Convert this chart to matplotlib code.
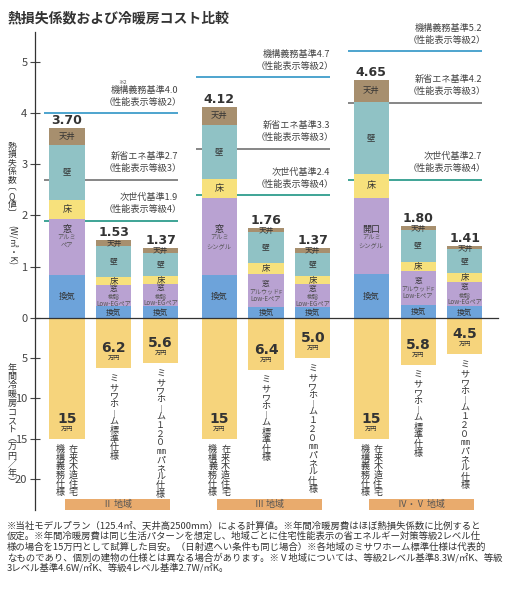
import matplotlib
matplotlib.use('Agg')
import matplotlib.pyplot as plt

plt.rcParams['font.family'] = ['Noto Sans CJK JP', 'DejaVu Sans']

# ---------------- data ----------------
regions = ['Ⅱ 地域', 'Ⅲ 地域', 'Ⅳ・Ⅴ 地域']
totals = [[3.70, 1.53, 1.37], [4.12, 1.76, 1.37], [4.65, 1.80, 1.41]]
vent = [[0.84, 0.23, 0.23], [0.84, 0.22, 0.21], [0.85, 0.26, 0.23]]
window = [[1.10, 0.41, 0.43], [1.50, 0.63, 0.45], [1.50, 0.66, 0.48]]
floor_ = [[0.37, 0.16, 0.16], [0.37, 0.22, 0.16], [0.46, 0.18, 0.17]]
wall = [[1.07, 0.60, 0.45], [1.06, 0.61, 0.45], [1.41, 0.62, 0.46]]
ceiling = [[0.32, 0.13, 0.10], [0.35, 0.08, 0.10], [0.43, 0.08, 0.07]]
costs = [[15, 6.2, 5.6], [15, 6.4, 5.0], [15, 5.8, 4.5]]
standards = [[4.0, 2.7, 1.9], [4.7, 3.3, 2.4], [5.2, 4.2, 2.7]]
standard_names = ['機構義務基準', '新省エネ基準', '次世代基準']
standard_grades = ['（性能表示等級2）', '（性能表示等級3）', '（性能表示等級4）']
window_main = [['窓', '窓', '窓'], ['窓', '窓', '窓'], ['開口', '窓', '窓']]
window_sub = [['アルミ\nペア', '樹脂\nLow-EGペア', '樹脂\nLow-EGペア'],
              ['アルミ\nシングル', 'アルウッドF\nLow-Eペア', '樹脂\nLow-EGペア'],
              ['アルミ\nシングル', 'アルウッドF\nLow-Eペア', '樹脂\nLow-EGペア']]
bar_names = [['在来木造住宅', '機構義務仕様'], ['ミサワホ︱ム標準仕様'], ['ミサワホ︱ム１２０㎜パネル仕様']]
upper_ticks = [1, 2, 3, 4, 5]
lower_ticks = [0, 5, 10, 15, 20]
footnote = [
    '※当社モデルプラン（125.4㎡、天井高2500mm）による計算値。※年間冷暖房費はほぼ熱損失係数に比例すると',
    '仮定。※年間冷暖房費は同じ生活パターンを想定し、地域ごとに住宅性能表示の省エネルギー対策等級2レベル仕',
    '様の場合を15万円として試算した目安。（日射遮へい条件も同じ場合）※各地域のミサワホーム標準仕様は代表的',
    'なものであり、個別の建物の仕様とは異なる場合があります。※Ⅴ地域については、等級2レベル基準8.3W/㎡K、等級',
    '3レベル基準4.6W/㎡K、等級4レベル基準2.7W/㎡K。',
]

# ---------------- style ----------------
C_VENT = '#6da3da'
C_WIN = '#b9a2d2'
C_FLOOR = '#f7e17c'
C_WALL = '#90c2c5'
C_CEIL = '#a78f6e'
C_COST = '#f6d47c'
C_LINES = ['#3f9dca', '#7d7d7d', '#2f9d8d']
C_REGION = '#e9ab6d'
TXT = '#333333'

W, H = 515, 590
PT = 0.72  # points per pixel at dpi 100
K = 0.157  # data units (Q) per 万円 in the lower half

fig = plt.figure(figsize=(W / 100, H / 100), dpi=100)
ax = fig.add_axes([35 / W, 1 - 510 / H, 465 / W, 478 / H])
ax.set_xlim(-0.684, 9.25)
ax.set_ylim(-3.746, 5.58)
for s in ['top', 'right', 'bottom']:
    ax.spines[s].set_visible(False)
ax.spines['left'].set_color('#333')
ax.spines['left'].set_linewidth(0.9)
ax.set_xticks([])
yt = upper_ticks + [-t * K for t in lower_ticks]
yl = [str(t) for t in upper_ticks] + [str(t) for t in lower_ticks]
ax.set_yticks(yt)
ax.set_yticklabels(yl)
ax.tick_params(axis='y', direction='inout', length=7, width=0.8, colors='#444',
               labelsize=8, pad=2)
ax.axhline(0, xmin=0, xmax=0.996, color='#333', lw=0.9, zorder=5)

GAP = 3.25
BW = 0.75


def ann(s, x, y, dx=0, dy=0, **kw):
    kw.setdefault('ha', 'center')
    kw.setdefault('va', 'center')
    kw.setdefault('color', TXT)
    kw.setdefault('annotation_clip', False)
    return ax.annotate(s, (x, y), xytext=(dx * PT, dy * PT), textcoords='offset points', **kw)


for g in range(3):
    g0 = g * GAP
    # standard lines
    for k in range(3):
        v = standards[g][k]
        ax.hlines(v, g0 - 0.5, g0 + 2.37, color=C_LINES[k], lw=1.3, zorder=1)
        ann(standard_names[k] + f'{v:.1f}', g0 + 2.37, v, 0, 23, ha='right', fontsize=6.6, color='#444')
        ann(standard_grades[k], g0 + 2.37, v, 4, 11, ha='right', fontsize=6.6, color='#444')
    if g == 0:
        ann('※2', g0 + 2.37, standards[0][0], -55, 30, fontsize=4, color='#555')
    # region label
    ax.bar(g0 + 1.08, 0.215, width=2.24, bottom=-3.75, color=C_REGION, zorder=2)
    ann(regions[g], g0 + 1.08, -3.64, 0, 0, fontsize=6.5, color='#555')

    for i in range(3):
        x = g0 + i
        segs = [vent[g][i], window[g][i], floor_[g][i], wall[g][i], ceiling[g][i]]
        cols = [C_VENT, C_WIN, C_FLOOR, C_WALL, C_CEIL]
        b = 0
        bottoms = []
        for v, c in zip(segs, cols):
            ax.bar(x, v, BW, bottom=b, color=c, zorder=3, linewidth=0)
            bottoms.append(b)
            b += v
        big = (i == 0)
        fs = 6 if big else 5.5
        # labels in segments
        ann('換気', x, bottoms[0] + segs[0] / 2, 0, 0 if big else -0.5, fontsize=fs, zorder=6)
        if big:
            ym = vent[g][i] + 0.88
            ann(window_main[g][i], x, ym, 0, 0, fontsize=6.5, zorder=6)
            for j, line in enumerate(window_sub[g][i].split('\n')):
                ann(line, x, ym, 0, -8 * (j + 1), fontsize=4.5, color='#555', zorder=6)
        else:
            ym = bottoms[1] + segs[1] / 2
            ann(window_main[g][i], x, ym, 0, 7, fontsize=5.5, zorder=6)
            for j, line in enumerate(window_sub[g][i].split('\n')):
                ann(line, x, ym, 0, -1 - 7 * j, fontsize=4.3 if j == 0 else 4.5,
                    color='#555', zorder=6)
        ann('床', x, bottoms[2] + segs[2] / 2, 0, 0, fontsize=fs + 0.5, zorder=6)
        ann('壁', x, bottoms[3] + segs[3] / 2, 0, 0, fontsize=fs, zorder=6)
        ann('天井', x, bottoms[4] + segs[4] / 2, 0, -1 if not big else 0, fontsize=fs, zorder=6)
        # total label
        ann(f'{totals[g][i]:.2f}', x, totals[g][i], 0, 1, va='bottom', fontsize=9,
            fontweight='bold', family='DejaVu Sans', color=TXT, zorder=6)

        # cost bar (downwards)
        c = costs[g][i]
        ax.bar(x, -c * K, BW, color=C_COST, zorder=3, linewidth=0)
        ann(f'{c:g}' if c == 15 else f'{c:.1f}', x, -c * K, 0, 20, fontsize=10,
            fontweight='bold', family='DejaVu Sans', color=TXT, zorder=6)
        ann('万円', x, -c * K, 0, 9, fontsize=4.5, color=TXT, zorder=6)

        # vertical names below cost bar
        names = bar_names[i]
        if len(names) == 2:
            offs = [6.5, -6.5]
        else:
            offs = [0]
        for name, dx in zip(names, offs):
            for j, ch in enumerate(name):
                ann(ch, x, -c * K, dx, -(11 + 8.6 * j), fontsize=6.5, color=TXT)

# ---------------- figure texts ----------------
def ftext(x, y, s, **kw):
    kw.setdefault('color', TXT)
    fig.text(x / W, 1 - y / H, s, **kw)


ftext(8, 18, '熱損失係数および冷暖房コスト比較', fontsize=10, fontweight='bold', va='center', ha='left')

# upper axis label (vertical)
up_chars = ['熱', '損', '失', '係', '数', '︹', 'Q', '値', '︺']
for j, ch in enumerate(up_chars):
    ftext(12, 146 + 8.4 * j, ch, fontsize=6.3, ha='center', va='center')
ftext(12, 245, '(W/㎡・K)', fontsize=6.3, ha='center', va='center', rotation=-90)

low_chars = ['年', '間', '冷', '暖', '房', 'コ', 'ス', 'ト', '︵', '万', '円', '／', '年', '︶']
for j, ch in enumerate(low_chars):
    ftext(12, 368 + 8.8 * j, ch, fontsize=6.5, ha='center', va='center')

for j, line in enumerate(footnote):
    ftext(7, 526 + 10.5 * j, line, fontsize=6.75, ha='left', va='center', color='#333')

fig.savefig('out.png', dpi=100)
